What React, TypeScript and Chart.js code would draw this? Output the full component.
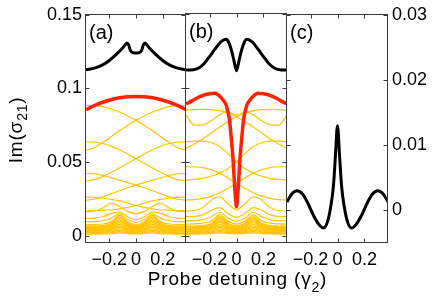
import React, { useEffect, useRef } from 'react';
import { Chart, registerables } from 'chart.js';
Chart.register(...registerables);

const W = 436;
const H = 302;
const FONT = "'Liberation Sans', Arial, sans-serif";

// ---------- axes ----------
const X_MIN = -0.375;
const X_MAX = 0.375;
const xTickValues = [-0.2, 0, 0.2];
const xTickLabels = ['\u22120.2', '0', '0.2'];
const yTickValuesAB = [0, 0.05, 0.1, 0.15];
const yTickLabelsAB = ['0', '0.05', '0.1', '0.15'];
const yTickValuesC = [0, 0.01, 0.02, 0.03];
const yTickLabelsC = ['0', '0.01', '0.02', '0.03'];

// axis titles (main text, subscript, closing part)
const xTitleParts = ['Probe detuning (\u03b3', '2', ')'];
const yTitleParts = ['Im(\u03c3', '21', ')'];

// ---------- common detuning grid for the yellow curves ----------
const xGrid = [-0.375, -0.3125, -0.25, -0.1875, -0.125, -0.0625, 0, 0.0625, 0.125, 0.1875, 0.25, 0.3125, 0.375];

// ---------- panel (a) ----------
const xBlackA = [-0.375, -0.3, -0.25, -0.2, -0.15, -0.1, -0.08, -0.068, -0.055, -0.042, -0.025, 0, 0.025, 0.042, 0.055, 0.068, 0.08, 0.1, 0.15, 0.2, 0.25, 0.3, 0.375];
const blackA = [0.1126, 0.1141, 0.116, 0.119, 0.123, 0.1275, 0.1297, 0.1309, 0.1296, 0.1258, 0.1243, 0.124, 0.1243, 0.1258, 0.1296, 0.1309, 0.1297, 0.1275, 0.123, 0.119, 0.116, 0.1141, 0.1126];
const redA = [0.0855, 0.0883, 0.0906, 0.0923, 0.0936, 0.0943, 0.0945, 0.0943, 0.0936, 0.0923, 0.0906, 0.0883, 0.0855];

const yelA1 = [0.0884, 0.0883, 0.0876, 0.0861, 0.084, 0.0813, 0.0783, 0.075, 0.0712, 0.0672, 0.0632, 0.0597, 0.058];
const yelA2 = [0.058, 0.0597, 0.0632, 0.0672, 0.0712, 0.075, 0.0783, 0.0813, 0.084, 0.0861, 0.0876, 0.0883, 0.0884];
const yelB1 = [0.0636, 0.0635, 0.0626, 0.0608, 0.0583, 0.0554, 0.0523, 0.0492, 0.046, 0.0429, 0.0401, 0.038, 0.037];
const yelB2 = [0.037, 0.038, 0.0401, 0.0429, 0.046, 0.0492, 0.0523, 0.0554, 0.0583, 0.0608, 0.0626, 0.0635, 0.0636];
const yelC1 = [0.0422, 0.042, 0.041, 0.0394, 0.0376, 0.036, 0.0343, 0.0325, 0.0305, 0.0284, 0.0263, 0.0247, 0.0241];
const yelC2 = [0.0241, 0.0247, 0.0263, 0.0284, 0.0305, 0.0325, 0.0343, 0.036, 0.0376, 0.0394, 0.041, 0.042, 0.0422];
const yelH1 = [0.0262, 0.026, 0.0254, 0.0246, 0.0236, 0.0222, 0.0205, 0.0192, 0.0182, 0.0176, 0.0172, 0.017, 0.0169];
const yelH2 = [0.0169, 0.017, 0.0172, 0.0176, 0.0182, 0.0192, 0.0205, 0.0222, 0.0236, 0.0246, 0.0254, 0.026, 0.0262];
const yelD = [0.0162, 0.0166, 0.0188, 0.0219, 0.02, 0.0165, 0.015, 0.0165, 0.02, 0.0219, 0.0188, 0.0166, 0.0162];
const yelE = [0.0117, 0.0119, 0.0128, 0.015, 0.0162, 0.0128, 0.0108, 0.0128, 0.0162, 0.015, 0.0128, 0.0119, 0.0117];
const yelF = [0.0094, 0.0095, 0.0101, 0.0118, 0.0148, 0.011, 0.009, 0.011, 0.0148, 0.0118, 0.0101, 0.0095, 0.0094];
const yelG = [0.0074, 0.0075, 0.0079, 0.0092, 0.0138, 0.0094, 0.0074, 0.0094, 0.0138, 0.0092, 0.0079, 0.0075, 0.0074];

// dense low-lying band (same look in (a) and (b))
const band1 = [0.0064, 0.0065, 0.0068, 0.0082, 0.0128, 0.0086, 0.0066, 0.0086, 0.0128, 0.0082, 0.0068, 0.0065, 0.0064];
const band2 = [0.0059, 0.006, 0.0063, 0.0076, 0.0118, 0.008, 0.0061, 0.008, 0.0118, 0.0076, 0.0063, 0.006, 0.0059];
const band3 = [0.0054, 0.0055, 0.0058, 0.007, 0.0108, 0.0073, 0.0056, 0.0073, 0.0108, 0.007, 0.0058, 0.0055, 0.0054];
const band4 = [0.0049, 0.005, 0.0052, 0.0063, 0.0098, 0.0066, 0.0051, 0.0066, 0.0098, 0.0063, 0.0052, 0.005, 0.0049];
const band5 = [0.0044, 0.0045, 0.0047, 0.0057, 0.0088, 0.0059, 0.0046, 0.0059, 0.0088, 0.0057, 0.0047, 0.0045, 0.0044];
const band6 = [0.0039, 0.004, 0.0042, 0.005, 0.0077, 0.0052, 0.0041, 0.0052, 0.0077, 0.005, 0.0042, 0.004, 0.0039];
const band7 = [0.0034, 0.0035, 0.0037, 0.0044, 0.0066, 0.0046, 0.0036, 0.0046, 0.0066, 0.0044, 0.0037, 0.0035, 0.0034];
const band8 = [0.0029, 0.003, 0.0032, 0.0038, 0.0056, 0.004, 0.0031, 0.004, 0.0056, 0.0038, 0.0032, 0.003, 0.0029];
const band9 = [0.0024, 0.0025, 0.0026, 0.0031, 0.0046, 0.0033, 0.0026, 0.0033, 0.0046, 0.0031, 0.0026, 0.0025, 0.0024];
const band10 = [0.0019, 0.002, 0.0021, 0.0025, 0.0036, 0.0027, 0.0021, 0.0027, 0.0036, 0.0025, 0.0021, 0.002, 0.0019];
const band11 = [0.0014, 0.0015, 0.0016, 0.0019, 0.0027, 0.0021, 0.0016, 0.0021, 0.0027, 0.0019, 0.0016, 0.0015, 0.0014];
const band12 = [0.0009, 0.001, 0.0011, 0.0013, 0.0019, 0.0015, 0.0011, 0.0015, 0.0019, 0.0013, 0.0011, 0.001, 0.0009];

// ---------- panel (b) ----------
const xBlackB = [-0.375, -0.32, -0.28, -0.24, -0.2, -0.16, -0.12, -0.09, -0.075, -0.06, -0.04, -0.02, 0, 0.02, 0.04, 0.06, 0.075, 0.09, 0.12, 0.16, 0.2, 0.24, 0.28, 0.32, 0.375];
const blackB = [0.1121, 0.1123, 0.1135, 0.1165, 0.1212, 0.1262, 0.1308, 0.1327, 0.1329, 0.1312, 0.1262, 0.119, 0.1116, 0.119, 0.1262, 0.1312, 0.1329, 0.1327, 0.1308, 0.1262, 0.1212, 0.1165, 0.1135, 0.1123, 0.1121];
const xRedB = [-0.375, -0.33, -0.28, -0.24, -0.2, -0.16, -0.12, -0.1, -0.077, -0.065, -0.052, -0.04, -0.027, -0.015, -0.007, 0, 0.007, 0.015, 0.027, 0.04, 0.052, 0.065, 0.077, 0.1, 0.12, 0.16, 0.2, 0.24, 0.28, 0.33, 0.375];
const redB = [0.0891, 0.0912, 0.0937, 0.0952, 0.096, 0.0963, 0.094, 0.0918, 0.0884, 0.0842, 0.0783, 0.067, 0.0534, 0.0354, 0.025, 0.0196, 0.025, 0.0354, 0.0534, 0.067, 0.0783, 0.0842, 0.0884, 0.0918, 0.094, 0.0963, 0.096, 0.0952, 0.0937, 0.0912, 0.0891];

const yelBT = [0.0817, 0.0748, 0.075, 0.0778, 0.0818, 0.0838, 0.0815, 0.0838, 0.0818, 0.0778, 0.075, 0.0748, 0.0817];
const yelBA1 = [0.0591, 0.062, 0.0656, 0.0695, 0.0735, 0.0772, 0.0805, 0.083, 0.0846, 0.0853, 0.0855, 0.0853, 0.085];
const yelBA2 = [0.085, 0.0853, 0.0855, 0.0853, 0.0846, 0.083, 0.0805, 0.0772, 0.0735, 0.0695, 0.0656, 0.062, 0.0591];
const yelBB1 = [0.0636, 0.064, 0.064, 0.063, 0.0603, 0.0555, 0.05, 0.0455, 0.0423, 0.0402, 0.0388, 0.038, 0.0376];
const yelBB2 = [0.0376, 0.038, 0.0388, 0.0402, 0.0423, 0.0455, 0.05, 0.0555, 0.0603, 0.063, 0.064, 0.064, 0.0636];
const yelBC1 = [0.0466, 0.0466, 0.046, 0.0446, 0.0423, 0.039, 0.0354, 0.032, 0.029, 0.0267, 0.0252, 0.0244, 0.0241];
const yelBC2 = [0.0241, 0.0244, 0.0252, 0.0267, 0.029, 0.032, 0.0354, 0.039, 0.0423, 0.0446, 0.046, 0.0466, 0.0466];
const yelBD = [0.0166, 0.017, 0.019, 0.024, 0.0263, 0.0215, 0.0175, 0.0215, 0.0263, 0.024, 0.019, 0.017, 0.0166];
const yelBE = [0.0128, 0.013, 0.014, 0.0172, 0.019, 0.015, 0.0125, 0.015, 0.019, 0.0172, 0.014, 0.013, 0.0128];
const yelBF = [0.01, 0.0101, 0.0108, 0.0128, 0.0158, 0.0118, 0.0098, 0.0118, 0.0158, 0.0128, 0.0108, 0.0101, 0.01];
const yelBG = [0.0078, 0.0079, 0.0084, 0.0098, 0.014, 0.0098, 0.0078, 0.0098, 0.014, 0.0098, 0.0084, 0.0079, 0.0078];

// ---------- panel (c) ----------
const xC = [-0.375, -0.34, -0.3, -0.26, -0.22, -0.18, -0.14, -0.105, -0.075, -0.05, -0.03, -0.015, 0, 0.015, 0.03, 0.05, 0.075, 0.105, 0.14, 0.18, 0.22, 0.26, 0.3, 0.34, 0.375];
const blackC = [0.0013, 0.0025, 0.003, 0.0025, 0.0011, -0.0007, -0.0021, -0.0027, -0.0018, 0.0006, 0.0038, 0.0085, 0.013, 0.0085, 0.0038, 0.0006, -0.0018, -0.0027, -0.0021, -0.0007, 0.0011, 0.0025, 0.003, 0.0025, 0.0013];

const bandSet = [band1, band2, band3, band4, band5, band6, band7, band8, band9, band10, band11, band12];
const yellowSetA = [yelA1, yelA2, yelB1, yelB2, yelC1, yelC2, yelH1, yelH2, yelD, yelE, yelF, yelG, ...bandSet];
const yellowSetB = [yelBT, yelBA1, yelBA2, yelBB1, yelBB2, yelBC1, yelBC2, yelBD, yelBE, yelBF, yelBG, ...bandSet];

const BLACK = '#000000';
const RED = '#ff2200';
const YELLOW = '#ffc400';

const toPts = (xs: number[], ys: number[]) => xs.map((x, i) => ({ x, y: ys[i] }));
const mkLine = (xs: number[], ys: number[], color: string, width: number) => ({
  data: toPts(xs, ys),
  borderColor: color,
  backgroundColor: color,
  borderWidth: width,
  pointRadius: 0,
  fill: false,
  cubicInterpolationMode: 'monotone',
});

// text with a subscript, centred on the origin, baseline at y = 0
function drawSubText(ctx: CanvasRenderingContext2D, parts: string[], size: number, subSize: number, drop: number, spacing: number) {
  const mainFont = `${size}px ${FONT}`;
  const subFont = `${subSize}px ${FONT}`;
  (ctx as any).letterSpacing = `${spacing}px`;
  ctx.font = mainFont;
  const w1 = ctx.measureText(parts[0]).width;
  const w3 = ctx.measureText(parts[2]).width;
  ctx.font = subFont;
  const w2 = ctx.measureText(parts[1]).width;
  let x = -(w1 + w2 + w3) / 2;
  ctx.textAlign = 'left';
  ctx.textBaseline = 'alphabetic';
  ctx.font = mainFont;
  ctx.fillText(parts[0], x, 0);
  x += w1;
  ctx.font = subFont;
  ctx.fillText(parts[1], x, drop);
  x += w2;
  ctx.font = mainFont;
  ctx.fillText(parts[2], x, 0);
}

const framePlugin = {
  id: 'frameTicks',
  afterDraw(chart: any, _args: any, opts: any) {
    const { ctx, chartArea: a, scales } = chart;
    const l = Math.round(a.left) - 0.5;
    const r = Math.round(a.right) - 0.5;
    const t = Math.round(a.top) - 0.5;
    const b = Math.round(a.bottom) - 0.5;
    ctx.save();
    ctx.strokeStyle = '#3a3a3a';
    ctx.lineWidth = 1;
    ctx.strokeRect(l, t, r - l, b - t);
    ctx.beginPath();
    for (const v of opts.xTicks) {
      const px = Math.round(scales.x.getPixelForValue(v)) + 0.5;
      ctx.moveTo(px, b); ctx.lineTo(px, b - 4);
      ctx.moveTo(px, t); ctx.lineTo(px, t + 4);
    }
    for (const v of opts.yTicks) {
      const py = Math.round(scales.y.getPixelForValue(v)) + 0.5;
      ctx.moveTo(l, py); ctx.lineTo(l + 4, py);
      ctx.moveTo(r, py); ctx.lineTo(r - 4, py);
    }
    ctx.stroke();
    ctx.fillStyle = '#000';
    ctx.font = `20px ${FONT}`;
    ctx.textBaseline = 'alphabetic';
    ctx.textAlign = 'left';
    ctx.fillText(opts.letter, a.left + 3, a.top + 24);
    ctx.restore();

    if (opts.xTitle) {
      ctx.save();
      ctx.fillStyle = '#000';
      ctx.translate((a.left + a.right) / 2 + 1, 285);
      drawSubText(ctx, opts.xTitle, 19, 14, 7, 0.8);
      ctx.restore();
    }
    if (opts.yTitle) {
      ctx.save();
      ctx.fillStyle = '#000';
      ctx.translate(21.5, (a.top + a.bottom) / 2 + 1);
      ctx.rotate(-Math.PI / 2);
      drawSubText(ctx, opts.yTitle, 19, 14, 5, 0.8);
      ctx.restore();
    }
  },
};

type PanelCfg = {
  datasets: any[];
  padLeft: number;
  padRight: number;
  yPos: 'left' | 'right' | 'none';
  yWidth: number;
  yMin: number;
  yMax: number;
  yTicks: number[];
  yLabels: string[];
  yTitle?: string[];
  xTitle?: string[];
  letter: string;
};

function makeChart(canvas: HTMLCanvasElement, cfg: PanelCfg) {
  const tickFont = { family: FONT, size: 18 };
  return new Chart(canvas, {
    type: 'line',
    data: { datasets: cfg.datasets },
    plugins: [framePlugin],
    options: {
      animation: false,
      responsive: false,
      maintainAspectRatio: false,
      devicePixelRatio: 1,
      layout: { padding: { top: 14, bottom: 0, left: cfg.padLeft, right: cfg.padRight } },
      plugins: {
        legend: { display: false },
        tooltip: { enabled: false },
        frameTicks: { xTicks: xTickValues, yTicks: cfg.yTicks, letter: cfg.letter, xTitle: cfg.xTitle, yTitle: cfg.yTitle },
      } as any,
      scales: {
        x: {
          type: 'linear',
          min: X_MIN,
          max: X_MAX,
          afterBuildTicks: (s: any) => { s.ticks = xTickValues.map((v) => ({ value: v })); },
          afterFit: (s: any) => { s.height = 59; },
          grid: { display: false, drawTicks: false },
          border: { display: false },
          ticks: {
            color: '#000',
            font: tickFont,
            padding: 6,
            maxRotation: 0,
            autoSkip: false,
            callback: (_v: any, i: number) => xTickLabels[i],
          },
        },
        y: {
          type: 'linear',
          display: cfg.yPos !== 'none',
          position: cfg.yPos === 'right' ? 'right' : 'left',
          min: cfg.yMin,
          max: cfg.yMax,
          afterBuildTicks: (s: any) => { s.ticks = cfg.yTicks.map((v) => ({ value: v })); },
          afterFit: (s: any) => { s.width = cfg.yWidth; },
          grid: { display: false, drawTicks: false },
          border: { display: false },
          ticks: {
            color: '#000',
            font: tickFont,
            padding: 4,
            autoSkip: false,
            callback: (_v: any, i: number) => cfg.yLabels[i],
          },
        },
      },
    } as any,
  });
}

export default function App() {
  const refA = useRef<HTMLCanvasElement>(null);
  const refB = useRef<HTMLCanvasElement>(null);
  const refC = useRef<HTMLCanvasElement>(null);

  useEffect(() => {
    const charts: Chart[] = [];
    charts.push(
      makeChart(refA.current!, {
        datasets: [
          mkLine(xBlackA, blackA, BLACK, 3),
          mkLine(xGrid, redA, RED, 3.5),
          ...yellowSetA.map((ys) => mkLine(xGrid, ys, YELLOW, 1.2)),
        ],
        padLeft: 0,
        padRight: W - 186,
        yPos: 'left',
        yWidth: 86,
        yMin: -0.005,
        yMax: 0.15,
        yTicks: yTickValuesAB,
        yLabels: yTickLabelsAB,
        yTitle: yTitleParts,
        letter: '(a)',
      })
    );
    charts.push(
      makeChart(refB.current!, {
        datasets: [
          mkLine(xBlackB, blackB, BLACK, 3),
          mkLine(xRedB, redB, RED, 3.5),
          ...yellowSetB.map((ys) => mkLine(xGrid, ys, YELLOW, 1.2)),
        ],
        padLeft: 186,
        padRight: W - 287,
        yPos: 'none',
        yWidth: 0,
        yMin: -0.005,
        yMax: 0.15,
        yTicks: yTickValuesAB,
        yLabels: yTickLabelsAB,
        xTitle: xTitleParts,
        letter: '(b)',
      })
    );
    charts.push(
      makeChart(refC.current!, {
        datasets: [mkLine(xC, blackC, BLACK, 3)],
        padLeft: 287,
        padRight: 0,
        yPos: 'right',
        yWidth: W - 388,
        yMin: -0.005,
        yMax: 0.03,
        yTicks: yTickValuesC,
        yLabels: yTickLabelsC,
        letter: '(c)',
      })
    );
    return () => charts.forEach((c) => c.destroy());
  }, []);

  const cs: React.CSSProperties = { position: 'absolute', left: 0, top: 0, width: W, height: H };
  return (
    <div style={{ position: 'fixed', left: 0, top: 0, width: W, height: H, background: '#fff' }}>
      <canvas ref={refA} width={W} height={H} style={cs} />
      <canvas ref={refB} width={W} height={H} style={cs} />
      <canvas ref={refC} width={W} height={H} style={cs} />
    </div>
  );
}
